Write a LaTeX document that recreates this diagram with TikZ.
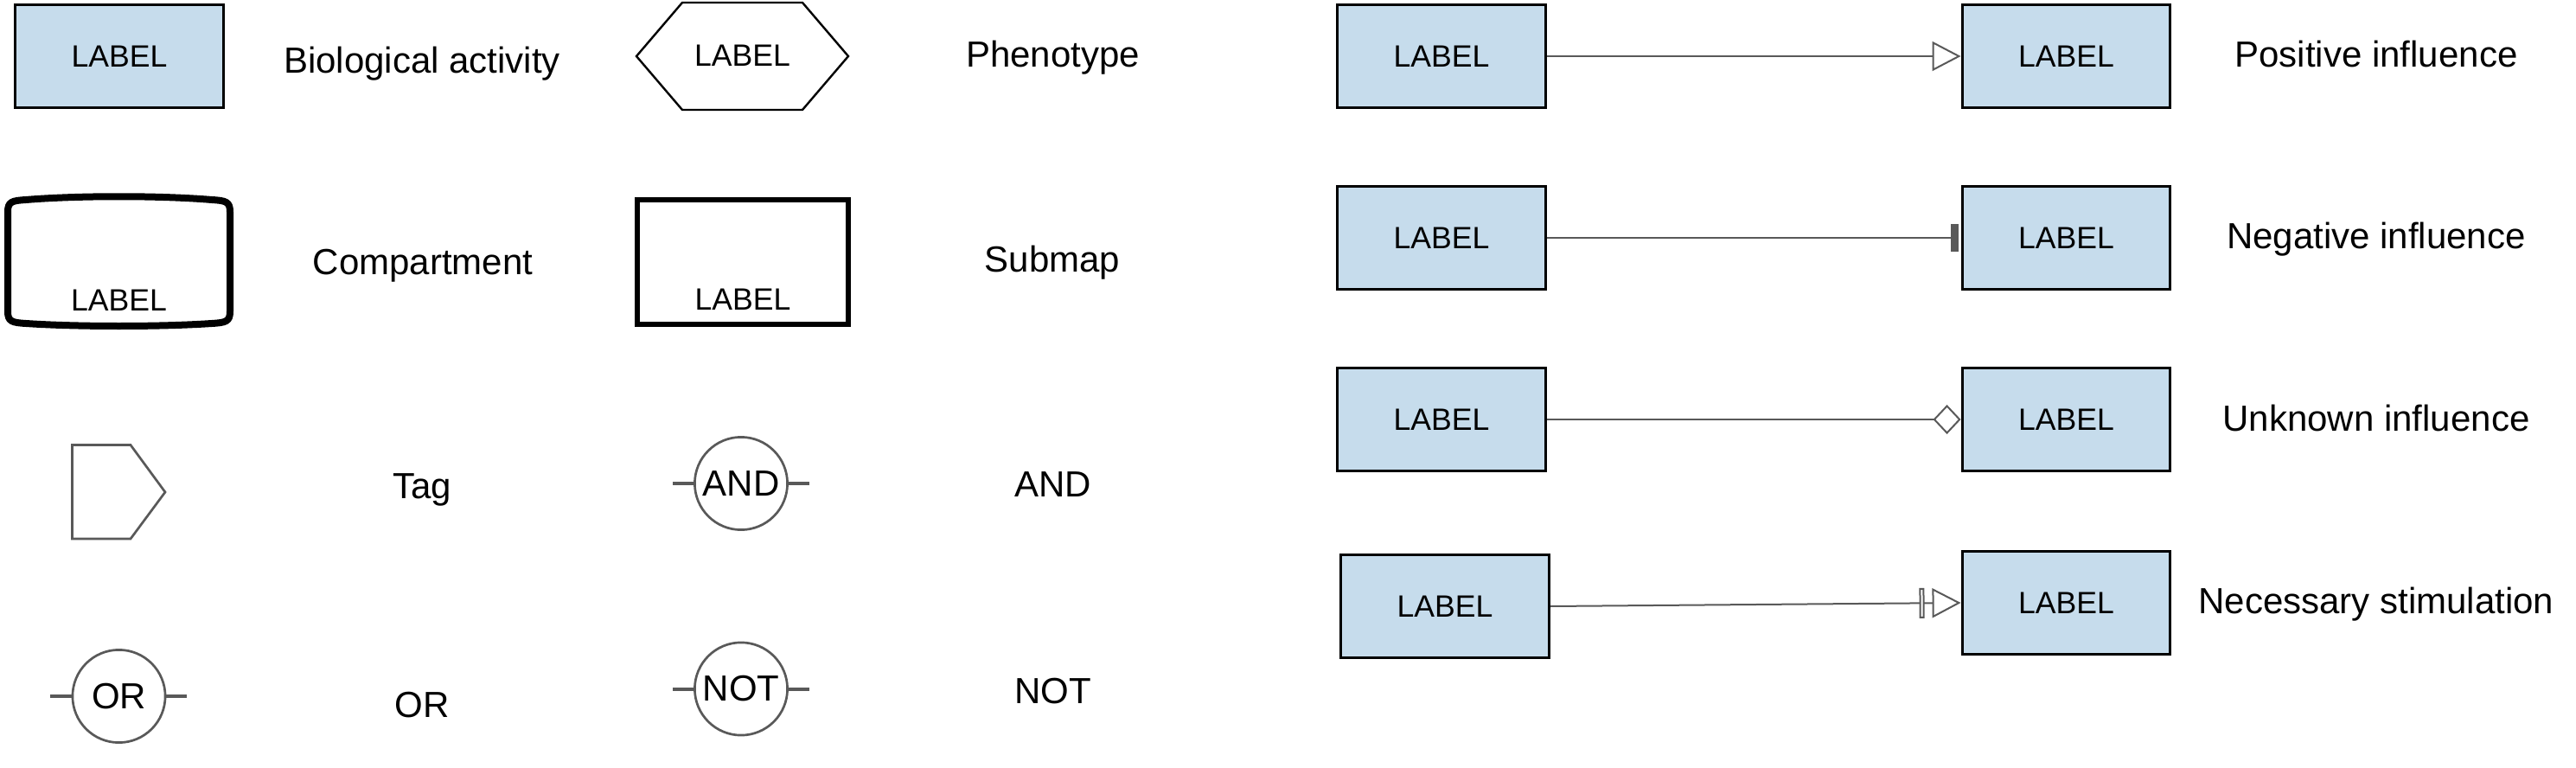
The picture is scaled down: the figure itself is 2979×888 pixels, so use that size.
\documentclass[tikz,border=0pt]{standalone}
\usepackage{fontspec}
\setmainfont{Liberation Sans}
\usetikzlibrary{arrows.meta}
\definecolor{actfill}{HTML}{C6DCEC}
\definecolor{edgegray}{HTML}{595959}
\begin{document}
\begin{tikzpicture}[x=0.5pt,y=-0.5pt,
  act/.style={draw=black, line width=1.65pt, fill=actfill, minimum width=120.3pt,
    minimum height=59.4pt, inner sep=0pt, font=\fontsize{17.8}{20}\selectfont},
  small/.style={inner sep=0pt, font=\fontsize{17.8}{20}\selectfont},
  lab/.style={inner sep=0pt, anchor=base, font=\fontsize{21}{24}\selectfont},
  gate/.style={circle, draw=edgegray, line width=1.35pt, minimum size=53.6pt,
    inner sep=0pt, font=\fontsize{21}{24}\selectfont},
  stub/.style={draw=edgegray, line width=2pt},
  conn/.style={draw=edgegray, line width=1pt},
  posinf/.style={conn, -{Triangle[open,fill=white,length=16.5pt,width=17pt]}},
  neginf/.style={conn, shorten >=1.5pt, -{Rectangle[length=4.5pt,width=16pt]}},
  unkinf/.style={conn, -{Diamond[open,fill=white,length=16pt,width=17pt]}},
  necinf/.style={conn, -{Rectangle[open,fill=white,length=3pt,width=17.5pt,sep=4.5pt]
      Triangle[open,fill=white,length=16.5pt,width=17pt]}},
]
\useasboundingbox (0,0) rectangle (2979,888);

% ---------- left block ----------
\node[act] (bio) at (138,65) {LABEL};
\node[lab] (biot) at (488,85) {Biological activity};

\draw[black, line width=1.2pt] (736,65) -- (789,3) -- (928,3) -- (981,65) -- (928,127) -- (789,127) -- cycle;
\node[small] (phen) at (858.5,64) {LABEL};
\node[lab] (phent) at (1217.5,78) {Phenotype};

\draw[black, line width=4pt] (9,245) -- (9,360)
  .. controls (9,372) and (14,373) .. (30,374)
  .. controls (90,378) and (185,378) .. (245,374)
  .. controls (261,373) and (266,372) .. (266,360) -- (266,245)
  .. controls (266,233) and (261,232) .. (245,231)
  .. controls (185,226) and (90,226) .. (30,231)
  .. controls (14,232) and (9,233) .. (9,245) -- cycle;
\node[small] (comp) at (137.5,347) {LABEL};
\node[lab] (compt) at (489,317) {Compartment};

\node[draw=black, line width=3pt, minimum width=122pt, minimum height=72pt, inner sep=0pt] (sub) at (859,303) {};
\node[small] (subl) at (859,346) {LABEL};
\node[lab] (subt) at (1217,314) {Submap};

\draw[edgegray, line width=1.35pt] (83.5,514.5) -- (151,514.5) -- (191,569) -- (151,623) -- (83.5,623) -- cycle;
\node[lab] (tagt) at (488,576) {Tag};

\node[gate] (andg) at (857,559) {AND};
\coordinate (andL) at (778,559);
\coordinate (andR) at (936,559);
\draw[stub] (andL) -- (andg.west);
\draw[stub] (andg.east) -- (andR);
\node[lab] (andt) at (1217.5,574) {AND};

\node[gate] (org) at (137.5,805) {OR};
\coordinate (orL) at (58,805);
\coordinate (orR) at (216,805);
\draw[stub] (orL) -- (org.west);
\draw[stub] (org.east) -- (orR);
\node[lab] (ort) at (488,829) {OR};

\node[gate] (notg) at (857,796.5) {NOT};
\coordinate (notL) at (778,796.5);
\coordinate (notR) at (936,796.5);
\draw[stub] (notL) -- (notg.west);
\draw[stub] (notg.east) -- (notR);
\node[lab] (nott) at (1217.5,813) {NOT};

% ---------- right block ----------
\node[act] (a1) at (1667,65) {LABEL};
\node[act] (b1) at (2389.5,65) {LABEL};
\draw[posinf] (a1.east) -- (b1.west);
\node[lab] (t1) at (2748,78) {Positive influence};

\node[act] (a2) at (1667,275) {LABEL};
\node[act] (b2) at (2389.5,275) {LABEL};
\draw[neginf] (a2.east) -- (b2.west);
\node[lab] (t2) at (2748,287) {Negative influence};

\node[act] (a3) at (1667,485) {LABEL};
\node[act] (b3) at (2389.5,485) {LABEL};
\draw[unkinf] (a3.east) -- (b3.west);
\node[lab] (t3) at (2748,498) {Unknown influence};

\node[act] (a4) at (1671,701) {LABEL};
\node[act] (b4) at (2389.5,697) {LABEL};
\draw[necinf] (a4.east) -- (b4.west);
\node[lab] (t4) at (2748,709) {Necessary stimulation};
\end{tikzpicture}
\end{document}
